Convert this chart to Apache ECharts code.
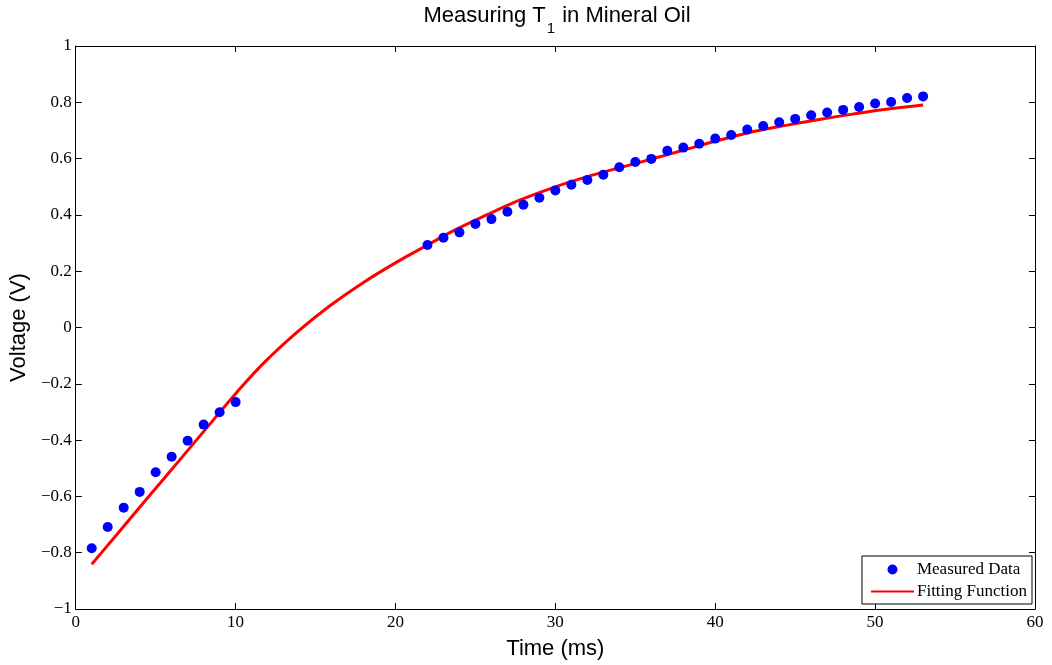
<!DOCTYPE html>
<html>
<head>
<meta charset="utf-8">
<script src="https://cdn.jsdelivr.net/npm/echarts@6/dist/echarts.min.js"></script>
<style>
  html, body { margin: 0; padding: 0; background: #fff; }
  #chart { width: 1052px; height: 665px; }
</style>
</head>
<body>
<div id="chart"></div>
<script>
// Measured T1 recovery data (time in ms, voltage in V)
const measuredTime = [1, 2, 3, 4, 5, 6, 7, 8, 9, 10,
  22, 23, 24, 25, 26, 27, 28, 29, 30, 31, 32, 33, 34, 35, 36, 37,
  38, 39, 40, 41, 42, 43, 44, 45, 46, 47, 48, 49, 50, 51, 52, 53];
const measuredVoltage = [-0.784, -0.709, -0.640, -0.584, -0.514, -0.459, -0.402, -0.345, -0.301, -0.265,
  0.293, 0.319, 0.338, 0.368, 0.385, 0.411, 0.436, 0.461, 0.487, 0.507, 0.524, 0.543, 0.569, 0.588, 0.599, 0.628,
  0.639, 0.653, 0.671, 0.684, 0.703, 0.716, 0.729, 0.741, 0.754, 0.764, 0.773, 0.783, 0.796, 0.801, 0.815, 0.821];

// Fitted recovery curve, sampled along the time axis
const fitTime = [1, 2.4, 4.5, 6.6, 8.6, 10, 11.8, 13.9, 15.9, 18, 20.1, 22, 23.7, 25.7, 27.8,
  29.9, 32, 34.1, 36.2, 38.2, 40.3, 42.4, 44.5, 46.6, 48.6, 50.7, 53];
const fitVoltage = [-0.841, -0.747, -0.605, -0.464, -0.329, -0.235, -0.124, -0.014, 0.077, 0.160, 0.233, 0.293, 0.346, 0.400, 0.453,
  0.498, 0.536, 0.569, 0.601, 0.633, 0.666, 0.696, 0.719, 0.740, 0.758, 0.775, 0.790];

// Axis ticks
const xTicks = { min: 0, max: 60, step: 10 };
const yTicks = { min: -1, max: 1, step: 0.2 };

const serif = 'Liberation Serif';
const sans = 'Liberation Sans';

const measuredPoints = measuredTime.map((t, i) => [t, measuredVoltage[i]]);
const fitPoints = fitTime.map((t, i) => [t, fitVoltage[i]]);

const yFmt = v => {
  const r = Math.round(v * 10) / 10;
  if (r === 0) return '0';
  return (r < 0 ? '\u2212' : '') + String(Math.abs(r));
};

const tickStyle = { show: true, inside: true, length: 6, lineStyle: { color: '#000', width: 1 } };
const lineStyle = { show: true, onZero: false, lineStyle: { color: '#000', width: 1 } };

const chart = echarts.init(document.getElementById('chart'), null, { renderer: 'canvas' });
chart.setOption({
  backgroundColor: '#fff',
  animation: false,
  title: {
    text: '{a|Measuring T}{s|1}{a| in Mineral Oil}',
    left: 557,
    textAlign: 'center',
    top: 5,
    padding: 0,
    textStyle: {
      fontWeight: 'normal',
      rich: {
        a: { fontFamily: sans, fontSize: 22, fontWeight: 'normal', color: '#000', verticalAlign: 'top' },
        s: { fontFamily: sans, fontSize: 15, fontWeight: 'normal', color: '#000', verticalAlign: 'top', padding: [16, 1, 0, 1] }
      }
    }
  },
  grid: { left: 75, right: 17, top: 46, bottom: 56, containLabel: false },
  legend: {
    orient: 'vertical',
    right: 20,
    bottom: 61,
    backgroundColor: '#fff',
    borderColor: '#000',
    borderWidth: 1,
    borderRadius: 0,
    padding: [5, 5, 4, 8],
    itemGap: 5,
    itemWidth: 43,
    itemHeight: 10,
    textStyle: { fontFamily: serif, fontSize: 17, color: '#000', padding: [0, 0, 0, -2] },
    data: [
      { name: 'Measured Data' },
      { name: 'Fitting Function', itemStyle: { opacity: 0 } }
    ]
  },
  xAxis: [
    {
      type: 'value', min: xTicks.min, max: xTicks.max, interval: xTicks.step,
      position: 'bottom',
      name: 'Time (ms)', nameLocation: 'middle', nameGap: 29,
      nameTextStyle: { fontFamily: sans, fontSize: 22, color: '#000' },
      axisLine: lineStyle, axisTick: tickStyle,
      axisLabel: { fontFamily: serif, fontSize: 17, color: '#000', margin: 5 },
      splitLine: { show: false }
    },
    {
      type: 'value', min: xTicks.min, max: xTicks.max, interval: xTicks.step,
      position: 'top',
      axisLine: lineStyle, axisTick: tickStyle,
      axisLabel: { show: false }, splitLine: { show: false }
    }
  ],
  yAxis: [
    {
      type: 'value', min: yTicks.min, max: yTicks.max, interval: yTicks.step,
      position: 'left',
      name: 'Voltage (V)', nameLocation: 'middle', nameGap: 35,
      nameTextStyle: { fontFamily: sans, fontSize: 22, color: '#000' },
      axisLine: lineStyle, axisTick: tickStyle,
      axisLabel: { fontFamily: serif, fontSize: 17, color: '#000', margin: 4, formatter: yFmt },
      splitLine: { show: false }
    },
    {
      type: 'value', min: yTicks.min, max: yTicks.max, interval: yTicks.step,
      position: 'right',
      axisLine: lineStyle, axisTick: tickStyle,
      axisLabel: { show: false }, splitLine: { show: false }
    }
  ],
  series: [
    {
      name: 'Measured Data',
      type: 'scatter',
      data: measuredPoints,
      symbol: 'circle',
      symbolSize: 10,
      itemStyle: { color: '#0000ff', opacity: 1 },
      z: 3
    },
    {
      name: 'Fitting Function',
      type: 'line',
      data: fitPoints,
      smooth: 0.4,
      showSymbol: false,
      symbol: 'none',
      lineStyle: { color: '#ff0000', width: 3 },
      itemStyle: { color: '#ff0000' },
      z: 2
    }
  ]
});
</script>
</body>
</html>
